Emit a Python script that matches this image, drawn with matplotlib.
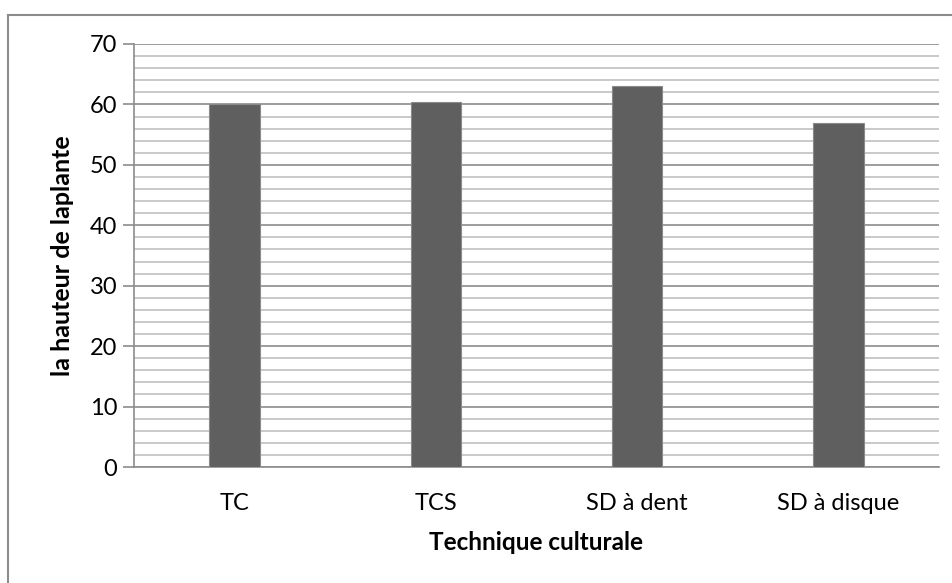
import matplotlib.pyplot as plt
from matplotlib.lines import Line2D
import numpy as np

categories = ["TC", "TCS", "SD à dent", "SD à disque"]
heights = [60, 60.4, 63, 57]

plt.rcParams['font.family'] = ['Lato', 'DejaVu Sans']

fig = plt.figure(figsize=(9.53, 5.83), dpi=100)
ax = fig.add_axes([134 / 953, 1 - 467 / 583, (939 - 134) / 953, (467 - 44) / 583])

x = np.arange(len(categories))
ax.bar(x, heights, width=0.25, color="#5f5f5f", edgecolor="#8a8a8a", linewidth=0.8, zorder=3)

ax.set_xlim(-0.5, len(categories) - 0.5)
ax.set_ylim(0, 70)
ax.set_yticks(np.arange(0, 71, 10))
ax.set_yticks(np.arange(0, 71, 2), minor=True)
ax.grid(axis="y", which="minor", color="#c0c0c0", linewidth=1.2, zorder=0)
ax.grid(axis="y", which="major", color="#8c8c8c", linewidth=1.2, zorder=1)

ax.set_xticks(x)
ax.set_xticklabels(categories, fontsize=17)
ax.tick_params(axis="x", length=0, pad=19)
ax.tick_params(axis="y", which="major", length=8, width=1.2, color="#8c8c8c", labelsize=17, pad=4)
ax.tick_params(axis="y", which="minor", length=0)

for side in ["top", "right"]:
    ax.spines[side].set_visible(False)
for side in ["left", "bottom"]:
    ax.spines[side].set_color("#8c8c8c")
    ax.spines[side].set_linewidth(1.2)

ax.set_xlabel("Technique culturale", fontsize=17.5, fontweight="bold")
ax.set_ylabel("la hauteur de laplante", fontsize=18, fontweight="bold")
ax.xaxis.set_label_coords(0.5, (467 - 531) / 423)
ax.yaxis.set_label_coords((74 - 134) / 805, 0.5)

# outer chart frame, clipped on the right and bottom
fig.add_artist(Line2D([8 / 953, 1], [1 - 14.5 / 583] * 2, color="#8c8c8c", linewidth=1.5, transform=fig.transFigure))
fig.add_artist(Line2D([8 / 953] * 2, [0, 1 - 14.5 / 583], color="#8c8c8c", linewidth=1.5, transform=fig.transFigure))

fig.savefig("out.png", dpi=100)
